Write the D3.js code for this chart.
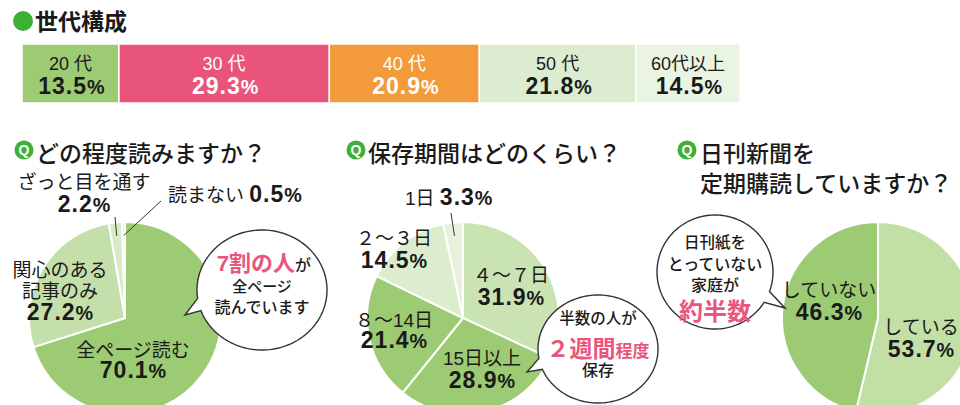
<!DOCTYPE html>
<html><head><meta charset="utf-8">
<script src="https://cdn.jsdelivr.net/npm/d3@7"></script>
<style>
body{margin:0;background:#fff;}
svg{display:block;font-family:"Liberation Sans","Noto Sans CJK JP",sans-serif;}
</style></head><body>
<svg id="c" width="960" height="405"></svg>
<script>
// ---------- data ----------
const ageCategories = ["20 代", "30 代", "40 代", "50 代", "60代以上"];
const ageValues = [13.5, 29.3, 20.9, 21.8, 14.5];

const readCategories = ["全ページ読む", "関心のある\n記事のみ", "ざっと目を通す", "読まない"];
const readValues = [70.1, 27.2, 2.2, 0.5];

const keepCategories = ["４〜７日", "15日以上", "８〜14日", "２〜３日", "1日"];
const keepValues = [31.9, 28.9, 21.4, 14.5, 3.3];

const subsCategories = ["している", "していない"];
const subsValues = [53.7, 46.3];

// ---------- styles ----------
const INK = "#1a1a1a", PINK = "#e9557d", QGREEN = "#3fb036";
const ageColors = ["#9ccb74", "#e8547a", "#f39a3b", "#dcecd0", "#eaf4e3"];
const ageText = [INK, "#fff", "#fff", INK, INK];
const readColors = ["#9ccb74", "#c4dfaa", "#d8ebc9", "#eaf4e2"];
const keepColors = ["#c9e3b2", "#9ccb74", "#9ccb74", "#dbedcd", "#e7f2de"];
const subsColors = ["#c2dfa6", "#9ccb74"];

const svg = d3.select("#c");
const fmt = d3.format(".1f");

function valueTspans(t, v, size) {
  t.append("tspan").attr("font-weight", "bold").attr("font-size", size)
    .attr("letter-spacing", 1).text(fmt(v));
  t.append("tspan").attr("font-weight", "bold").attr("font-size", size * 0.86).text("%");
}

// ---------- top title ----------
svg.append("circle").attr("cx", 23).attr("cy", 21).attr("r", 10).attr("fill", QGREEN);
svg.append("text").attr("x", 35).attr("y", 30).attr("font-size", 23).attr("font-weight", "bold")
  .attr("fill", INK).text("世代構成");

// ---------- stacked bar ----------
const x = d3.scaleLinear().domain([0, 100]).range([22, 740]);
const cum = d3.cumsum(ageValues);
const starts = ageValues.map((v, i) => cum[i] - v);
const barG = svg.append("g");
barG.selectAll("rect").data(ageValues).join("rect")
  .attr("x", (d, i) => x(starts[i]))
  .attr("y", 44).attr("height", 59)
  .attr("width", (d, i) => x(cum[i]) - x(starts[i]))
  .attr("fill", (d, i) => ageColors[i])
  .attr("stroke", "#fff").attr("stroke-width", 1.5);
ageValues.forEach((v, i) => {
  const cx = (x(starts[i]) + x(cum[i])) / 2;
  barG.append("text").attr("x", cx).attr("y", 70).attr("text-anchor", "middle")
    .attr("font-size", 18).attr("fill", ageText[i]).text(ageCategories[i]);
  const t = barG.append("text").attr("x", cx + 1).attr("y", 94).attr("text-anchor", "middle")
    .attr("fill", ageText[i]);
  valueTspans(t, v, 23);
});

// ---------- helpers ----------
function qTitle(cx, cy, tx, lines) {
  svg.append("circle").attr("cx", cx).attr("cy", cy).attr("r", 9.5).attr("fill", QGREEN);
  svg.append("text").attr("x", cx).attr("y", cy + 5).attr("text-anchor", "middle")
    .attr("font-size", 14).attr("font-weight", "bold").attr("fill", "#fff").text("Q");
  lines.forEach((l, i) => {
    svg.append("text").attr("x", tx).attr("y", cy + 12 + i * 30).attr("font-size", 23)
      .attr("font-weight", 500).attr("fill", INK).text(l);
  });
}

function drawPie(cx, cy, r, values, cats, colors, layout) {
  const g = svg.append("g").attr("transform", `translate(${cx},${cy})`);
  const arcs = d3.pie().sort(null).value(d => d)(values);
  const arc = d3.arc().innerRadius(0).outerRadius(r);
  g.selectAll("path").data(arcs).join("path")
    .attr("d", arc).attr("fill", (d, i) => colors[i])
    .attr("stroke", "#fff").attr("stroke-width", 2).attr("stroke-linejoin", "round");
  arcs.forEach((a, i) => {
    const L = layout[i];
    if (L.leader) {
      const mid = (a.startAngle + a.endAngle) / 2;
      const rr = r * 0.86;
      svg.append("line")
        .attr("x1", cx + rr * Math.sin(mid)).attr("y1", cy - rr * Math.cos(mid))
        .attr("x2", L.leader[0]).attr("y2", L.leader[1])
        .attr("stroke", "#333").attr("stroke-width", 1);
    }
    if (L.inline) {
      const t = svg.append("text").attr("x", L.x).attr("y", L.ys[0]).attr("fill", INK);
      t.append("tspan").attr("font-size", 19).text(cats[i]);
      t.append("tspan").attr("font-size", 19).text("\u00a0");
      valueTspans(t, values[i], 23);
    } else {
      const lines = cats[i].split("\n");
      lines.forEach((l, k) => {
        svg.append("text").attr("x", L.x).attr("y", L.ys[k]).attr("text-anchor", "middle")
          .attr("font-size", 19).attr("fill", INK).text(l);
      });
      const t = svg.append("text").attr("x", L.x).attr("y", L.ys[lines.length])
        .attr("text-anchor", "middle").attr("fill", INK);
      valueTspans(t, values[i], 23);
    }
  });
}

function bubble(cx, cy, rx, ry, a1, a2, tip, textLines) {
  const pts = [tip];
  const n = 160;
  for (let i = 0; i <= n; i++) {
    const a = (a2 + (360 - (a2 - a1)) * i / n) * Math.PI / 180;
    pts.push([cx + rx * Math.cos(a), cy + ry * Math.sin(a)]);
  }
  svg.append("path").attr("d", d3.line()(pts) + "Z")
    .attr("fill", "#fff").attr("stroke", "#333").attr("stroke-width", 1.4)
    .attr("stroke-linejoin", "miter");
  textLines.forEach(line => {
    const t = svg.append("text").attr("x", cx + (line.dx || 0)).attr("y", line.y)
      .attr("text-anchor", "middle");
    line.parts.forEach(p => {
      t.append("tspan").attr("font-size", p.s).attr("font-weight", p.b ? "bold" : 500)
        .attr("fill", p.c || INK).text(p.t);
    });
  });
}

// ---------- pie 1 ----------
qTitle(24, 150, 36, ["どの程度読みますか？"]);
drawPie(125, 318, 96, readValues, readCategories, readColors, [
  { x: 133, ys: [357, 378] },
  { x: 60, ys: [277, 298, 320] },
  { x: 84, ys: [189, 212], leader: [115, 217] },
  { x: 168, ys: [202], inline: true, leader: [161, 201] }
]);
bubble(262, 290, 65, 60, 160, 172, [185, 315], [
  { y: 271, dx: 2, parts: [{ t: "7割の人", s: 22, b: true, c: PINK }, { t: "が", s: 16 }] },
  { y: 292, parts: [{ t: "全ページ", s: 15 }] },
  { y: 313, parts: [{ t: "読んでいます", s: 16 }] }
]);

// ---------- pie 2 ----------
qTitle(356, 150, 368, ["保存期間はどのくらい？"]);
drawPie(463, 318, 96, keepValues, keepCategories, keepColors, [
  { x: 511, ys: [282, 305] },
  { x: 482, ys: [365, 388] },
  { x: 394, ys: [327, 348] },
  { x: 394, ys: [245, 268] },
  { x: 405, ys: [205], inline: true, leader: [451, 213] }
]);

// ---------- pie 3 ----------
qTitle(687, 150, 700, ["日刊新聞を", "定期購読していますか？"]);
drawPie(878, 318, 96, subsValues, subsCategories, subsColors, [
  { x: 921, ys: [334, 357] },
  { x: 829, ys: [297, 320] }
]);

bubble(598, 349, 60, 54, 158, 170, [527, 372], [
  { y: 324, parts: [{ t: "半数の人が", s: 15.5 }] },
  { y: 357, parts: [{ t: "２週間", s: 23, b: true, c: PINK }, { t: "程度", s: 17, b: true, c: PINK }] },
  { y: 376, parts: [{ t: "保存", s: 16 }] }
]);
bubble(715, 272, 58, 57, 20, 32, [785, 308], [
  { y: 248, parts: [{ t: "日刊紙を", s: 15.5 }] },
  { y: 270, parts: [{ t: "とっていない", s: 16 }] },
  { y: 291, parts: [{ t: "家庭が", s: 16 }] },
  { y: 320, parts: [{ t: "約半数", s: 24, b: true, c: PINK }] }
]);
</script>
</body></html>
